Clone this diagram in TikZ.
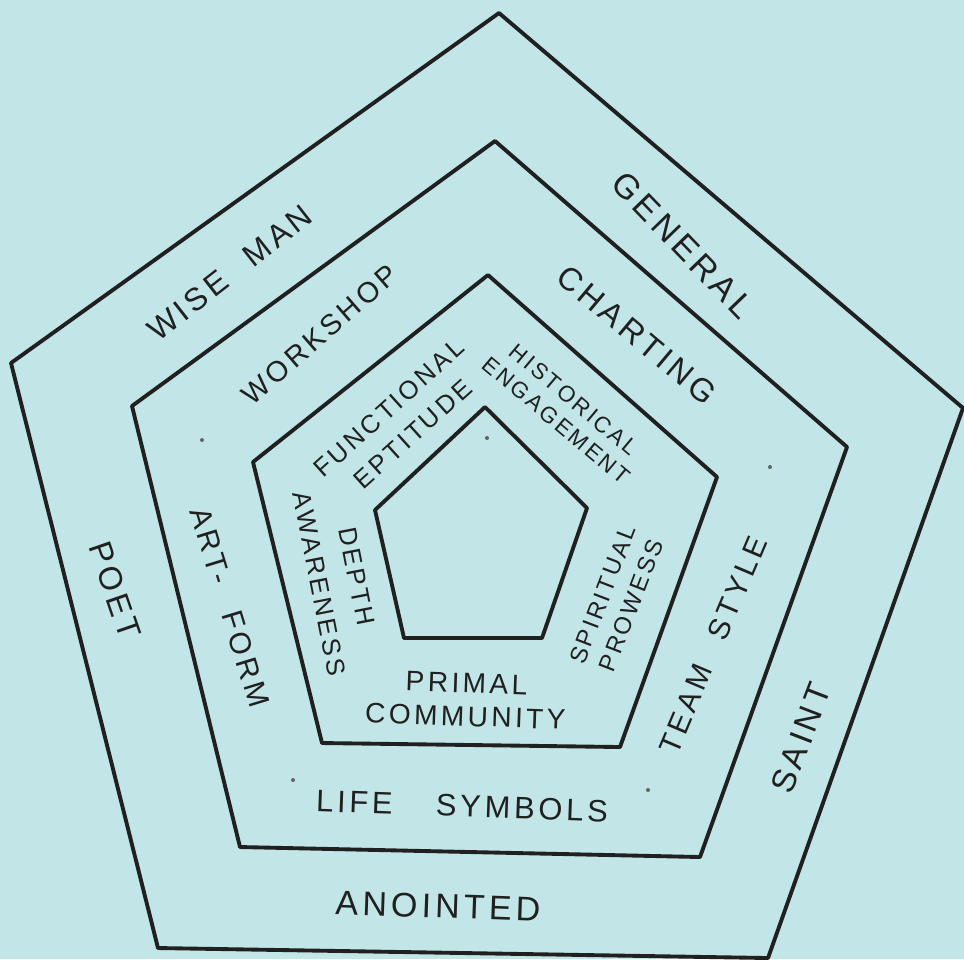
\documentclass[tikz,border=0pt]{standalone}
\usepackage{fontspec}
\newfontfamily\handfont[LetterSpace=12]{Liberation Sans}
\newcommand{\hw}[2]{\handfont\fontsize{#1}{#2}\selectfont}
\definecolor{paper}{RGB}{194,229,231}
\definecolor{pen}{RGB}{32,32,32}

\begin{document}
\begin{tikzpicture}[x=0.01cm, y=-0.01cm,
		ring/.style={line width=1.1pt, draw=pen, line join=round},
		lbl/.style={text=pen, align=center, inner sep=0pt},
		speck/.style={fill=pen!70},
	]
	\useasboundingbox (0,0) rectangle (964,959);
	\fill[paper] (0,0) rectangle (964,959);
	% nested pentagons, outside in
	\draw[ring] (499,13) -- (963,408) -- (768,958) -- (158,948) -- (11,363) -- cycle;
	\draw[ring] (495,141) -- (847,447) -- (700,857) -- (240,847) -- (132,406) -- cycle;
	\draw[ring] (488,275) -- (717,477) -- (620,747) -- (322,743) -- (253,462) -- cycle;
	\draw[ring] (485,407) -- (587,508) -- (542,638) -- (404,638) -- (375,510) -- cycle;
	% outer ring
	\node[lbl, rotate=-46, font=\hw{9.7}{11}] (general) at (683,245) {GENERAL};
	\node[lbl, rotate=69, font=\hw{9.5}{11}] (saint) at (801,738) {SAINT};
	\node[lbl, rotate=-2, font=\hw{9.7}{11}] (anointed) at (438,906) {ANOINTED};
	\node[lbl, rotate=-71, font=\hw{9.2}{11}] (poet) at (115,590) {POET};
	\node[lbl, rotate=38, font=\hw{9}{11}] (wiseman) at (230,273) {WISE\hspace{0.9em}MAN};
	% middle ring
	\node[lbl, rotate=-40, font=\hw{9.2}{11}] (charting) at (637,335) {CHARTING};
	\node[lbl, rotate=67, font=\hw{8.5}{10}] (teamstyle) at (713,645) {TEAM\hspace{1em}STYLE};
	\node[lbl, rotate=-2, font=\hw{8.8}{10}] (lifesymbols) at (462,806) {LIFE\hspace{1.4em}SYMBOLS};
	\node[lbl, rotate=-73, font=\hw{8.5}{10}] (artform) at (230,607) {ART-\hspace{1em}FORM};
	\node[lbl, rotate=41, font=\hw{8.2}{10}] (workshop) at (320,335) {WORKSHOP};
	% inner ring
	\node[lbl, rotate=-40, font=\hw{6.4}{7.7}] (historical) at (565,410) {HISTORICAL\\ENGAGEMENT};
	\node[lbl, rotate=69, font=\hw{6.8}{8.7}] (spiritual) at (617,600) {SPIRITUAL\\PROWESS};
	\node[lbl, rotate=-2, font=\hw{8}{9.4}] (primal) at (466,700) {PRIMAL\\COMMUNITY};
	\node[lbl, rotate=-79, font=\hw{7.3}{10.8}] (depth) at (338,580) {DEPTH\\AWARENESS};
	\node[lbl, rotate=42, font=\hw{7.3}{10}] (functional) at (401,421) {FUNCTIONAL\\EPTITUDE};
	% stray pen marks
	\foreach \p in {(202,440), (770,467), (487,438), (293,780), (648,790)}
		\fill[speck] \p circle (2);
\end{tikzpicture}
\end{document}
